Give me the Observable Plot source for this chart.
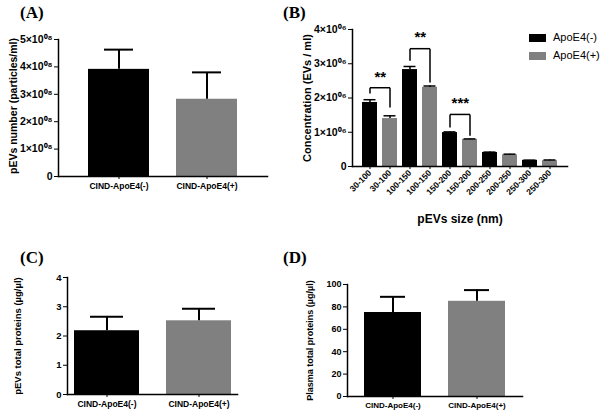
<!DOCTYPE html>
<html><head><meta charset="utf-8">
<script src="https://cdn.jsdelivr.net/npm/d3@7"></script>
<script src="https://cdn.jsdelivr.net/npm/@observablehq/plot@0.6"></script>
<style>
body{margin:0;background:#fff;}
#fig{position:relative;width:600px;height:413px;overflow:hidden;font-family:"Liberation Sans",Arial,sans-serif;}
.plab{position:absolute;font-family:"Liberation Serif","Times New Roman",serif;font-weight:bold;font-size:17px;line-height:17px;}
.leg{position:absolute;font-size:11px;line-height:11px;display:flex;align-items:center;}
.leg span.sw{display:inline-block;width:17px;height:8px;margin-right:7px;}
</style></head>
<body><div id="fig"></div>
<script>
// ---- data ----
const groups = ["CIND-ApoE4(-)", "CIND-ApoE4(+)"];
const groupColors = ["#000000", "#808080"];
const evNumber = [3.91e8, 2.82e8];
const evNumberSem = [0.72e8, 0.98e8];
const numberTicks = [0, 1e8, 2e8, 3e8, 4e8, 5e8];

const seriesNames = ["ApoE4(-)", "ApoE4(+)"];
const sizeBins = ["30-100", "100-150", "150-200", "200-250", "250-300"];
const concMinus = [1.87e6, 2.83e6, 0.99e6, 0.41e6, 0.18e6];
const concMinusSem = [0.08e6, 0.09e6, 0.02e6, 0.01e6, 0.005e6];
const concPlus = [1.40e6, 2.31e6, 0.79e6, 0.34e6, 0.17e6];
const concPlusSem = [0.08e6, 0.04e6, 0.015e6, 0.02e6, 0.02e6];
const concTicks = [0, 1e6, 2e6, 3e6, 4e6];

const sigBins = [0, 1, 2];          // index into sizeBins
const sigStars = ["**", "**", "***"];
const sigTop = [2.30e6, 3.44e6, 1.52e6];
const sigLeftEnd = [2.13e6, 3.09e6, 1.14e6];
const sigRightEnd = [1.72e6, 2.45e6, 0.90e6];
const sigStarY = [2.60e6, 3.78e6, 1.84e6];

const pevProtein = [2.18, 2.52];
const pevProteinSem = [0.48, 0.41];
const proteinTicks = [0, 1, 2, 3, 4];

const plasmaProtein = [75, 85];
const plasmaProteinSem = [14, 10];
const plasmaTicks = [0, 20, 40, 60, 80, 100];

// ---- helpers ----
const fig = document.getElementById("fig");
const sty = {fontFamily: '"Liberation Sans", Arial, sans-serif', fontSize: "10px", fontWeight: "bold", background: "transparent", overflow: "visible", maxWidth: "none"};
function place(el, left, top) {
  const d = document.createElement("div");
  d.style.cssText = `position:absolute;left:${left}px;top:${top}px;`;
  d.appendChild(el);
  fig.appendChild(d);
}
function plabel(t, left, top) {
  const d = document.createElement("div");
  d.className = "plab"; d.textContent = t;
  d.style.left = left + "px"; d.style.top = top + "px";
  fig.appendChild(d);
}
function groupPanel(o) {
  const rows = groups.map((g, i) => ({group: g, value: o.values[i], sem: o.sems[i]}));
  return Plot.plot({
    width: 300, height: o.height,
    marginLeft: o.ml, marginRight: o.mr, marginTop: o.mt, marginBottom: o.mb,
    style: sty,
    x: {domain: groups, paddingInner: o.pi, paddingOuter: o.po, label: null},
    y: {domain: [0, o.yMax], label: null},
    color: {domain: groups, range: groupColors},
    marks: [
      Plot.barY(rows, {x: "group", y: "value", fill: "group"}),
      Plot.ruleX(rows, {x: "group", y1: "value", y2: d => d.value + d.sem, strokeWidth: 2}),
      Plot.tickY(rows, {x: "group", y: d => d.value + d.sem, strokeWidth: 2, insetLeft: o.cap, insetRight: o.cap}),
      Plot.axisY({ticks: o.yTicks, tickFormat: o.yFormat, tickSize: 4, tickPadding: 2, fontSize: o.yFont, label: null}),
      Plot.axisX({tickSize: 3, tickPadding: 3, fontSize: o.xFont, label: null}),
      Plot.frame({anchor: "left", strokeWidth: 1.5}),
      Plot.frame({anchor: "bottom", strokeWidth: 1.5}),
      Plot.text([o.yLabel], {frameAnchor: "left", textAnchor: "middle", rotate: -90, dx: o.labelDx, dy: o.labelShift || 0, fontSize: o.labelFont, fontWeight: "bold"})
    ]
  });
}

// ---- Panel A ----
place(groupPanel({
  values: evNumber, sems: evNumberSem, yMax: 5e8, yTicks: numberTicks,
  yFormat: d => d === 0 ? "0" : `${d / 1e8}×10⁰⁸`,
  height: 230, ml: 58, mr: 33, mt: 39, mb: 54, pi: 0.307, po: 0.341, cap: 16,
  yFont: 10.5, xFont: 8.5, yLabel: "pEVs number (particles/ml)", labelDx: -45, labelShift: -2, labelFont: 10.5
}), 0, 0);

// ---- Panel B ----
const rowsB = [];
sizeBins.forEach((b, i) => {
  rowsB.push({key: 2 * i, bin: b, series: seriesNames[0], value: concMinus[i], sem: concMinusSem[i]});
  rowsB.push({key: 2 * i + 1, bin: b, series: seriesNames[1], value: concPlus[i], sem: concPlusSem[i]});
});
const segs = [];
sigBins.forEach((b, j) => {
  const l = 2 * b, r = 2 * b + 1;
  segs.push({x1: l, x2: r, y1: sigTop[j], y2: sigTop[j]});
  segs.push({x1: l, x2: l, y1: sigTop[j], y2: sigLeftEnd[j]});
  segs.push({x1: r, x2: r, y1: sigTop[j], y2: sigRightEnd[j]});
});
const stars = sigBins.map((b, j) => ({key: 2 * b, y: sigStarY[j], s: sigStars[j]}));
const plotB = Plot.plot({
  width: 300, height: 230, marginLeft: 52, marginRight: 33, marginTop: 29, marginBottom: 64,
  style: sty,
  x: {domain: d3.range(10), paddingInner: 0.274, paddingOuter: 0.337, label: null},
  y: {domain: [0, 4e6], label: null},
  color: {domain: seriesNames, range: groupColors},
  marks: [
    Plot.barY(rowsB, {x: "key", y: "value", fill: "series"}),
    Plot.ruleX(rowsB, {x: "key", y1: "value", y2: d => d.value + d.sem, strokeWidth: 1.5}),
    Plot.tickY(rowsB, {x: "key", y: d => d.value + d.sem, strokeWidth: 1.5, insetLeft: 1.5, insetRight: 1.5}),
    Plot.link(segs, {x1: "x1", x2: "x2", y1: "y1", y2: "y2", strokeWidth: 1.5}),
    Plot.text(stars, {x: "key", y: "y", text: "s", dx: 10.3, fontSize: 15, fontWeight: "bold"}),
    Plot.axisY({ticks: concTicks, tickFormat: d => d === 0 ? "0" : `${d / 1e6}×10⁰⁶`, tickSize: 4, tickPadding: 2, fontSize: 10.5, label: null}),
    Plot.axisX({tickFormat: i => rowsB[i].bin, tickRotate: -45, tickSize: 3, tickPadding: 2, fontSize: 8.5, label: null}),
    Plot.frame({anchor: "left", strokeWidth: 1.5}),
    Plot.frame({anchor: "bottom", strokeWidth: 1.5}),
    Plot.text(["Concentration (EVs / ml)"], {frameAnchor: "left", textAnchor: "middle", rotate: -90, dx: -45, fontSize: 11, fontWeight: "bold"}),
    Plot.text(["pEVs size (nm)"], {frameAnchor: "bottom", dy: 56, fontSize: 12, fontWeight: "bold"})
  ]
});
place(plotB, 300, 0);

// legend for B
seriesNames.forEach((s, i) => {
  const d = document.createElement("div");
  d.className = "leg";
  d.style.left = "529px"; d.style.top = (32 + i * 18) + "px";
  d.innerHTML = `<span class="sw" style="background:${groupColors[i]}"></span><span>${s}</span>`;
  fig.appendChild(d);
});

// ---- Panel C ----
place(groupPanel({
  values: pevProtein, sems: pevProteinSem, yMax: 4, yTicks: proteinTicks,
  yFormat: d => String(d),
  height: 183, ml: 67, mr: 63, mt: 47, mb: 19, pi: 0.297, po: 0.068, cap: 16,
  yFont: 9.5, xFont: 8.5, yLabel: "pEVs total proteins (µg/µl)", labelDx: -50, labelFont: 9.5
}), 0, 230);

// ---- Panel D ----
place(groupPanel({
  values: plasmaProtein, sems: plasmaProteinSem, yMax: 100, yTicks: plasmaTicks,
  yFormat: d => String(d),
  height: 183, ml: 47, mr: 78, mt: 54, mb: 17, pi: 0.321, po: 0.19, cap: 16,
  yFont: 9, xFont: 8, yLabel: "Plasma total proteins (µg/µl)", labelDx: -37, labelFont: 9
}), 300, 230);

plabel("(A)", 20, 4);
plabel("(B)", 283, 4);
plabel("(C)", 20, 249);
plabel("(D)", 283, 249);
</script></body></html>
